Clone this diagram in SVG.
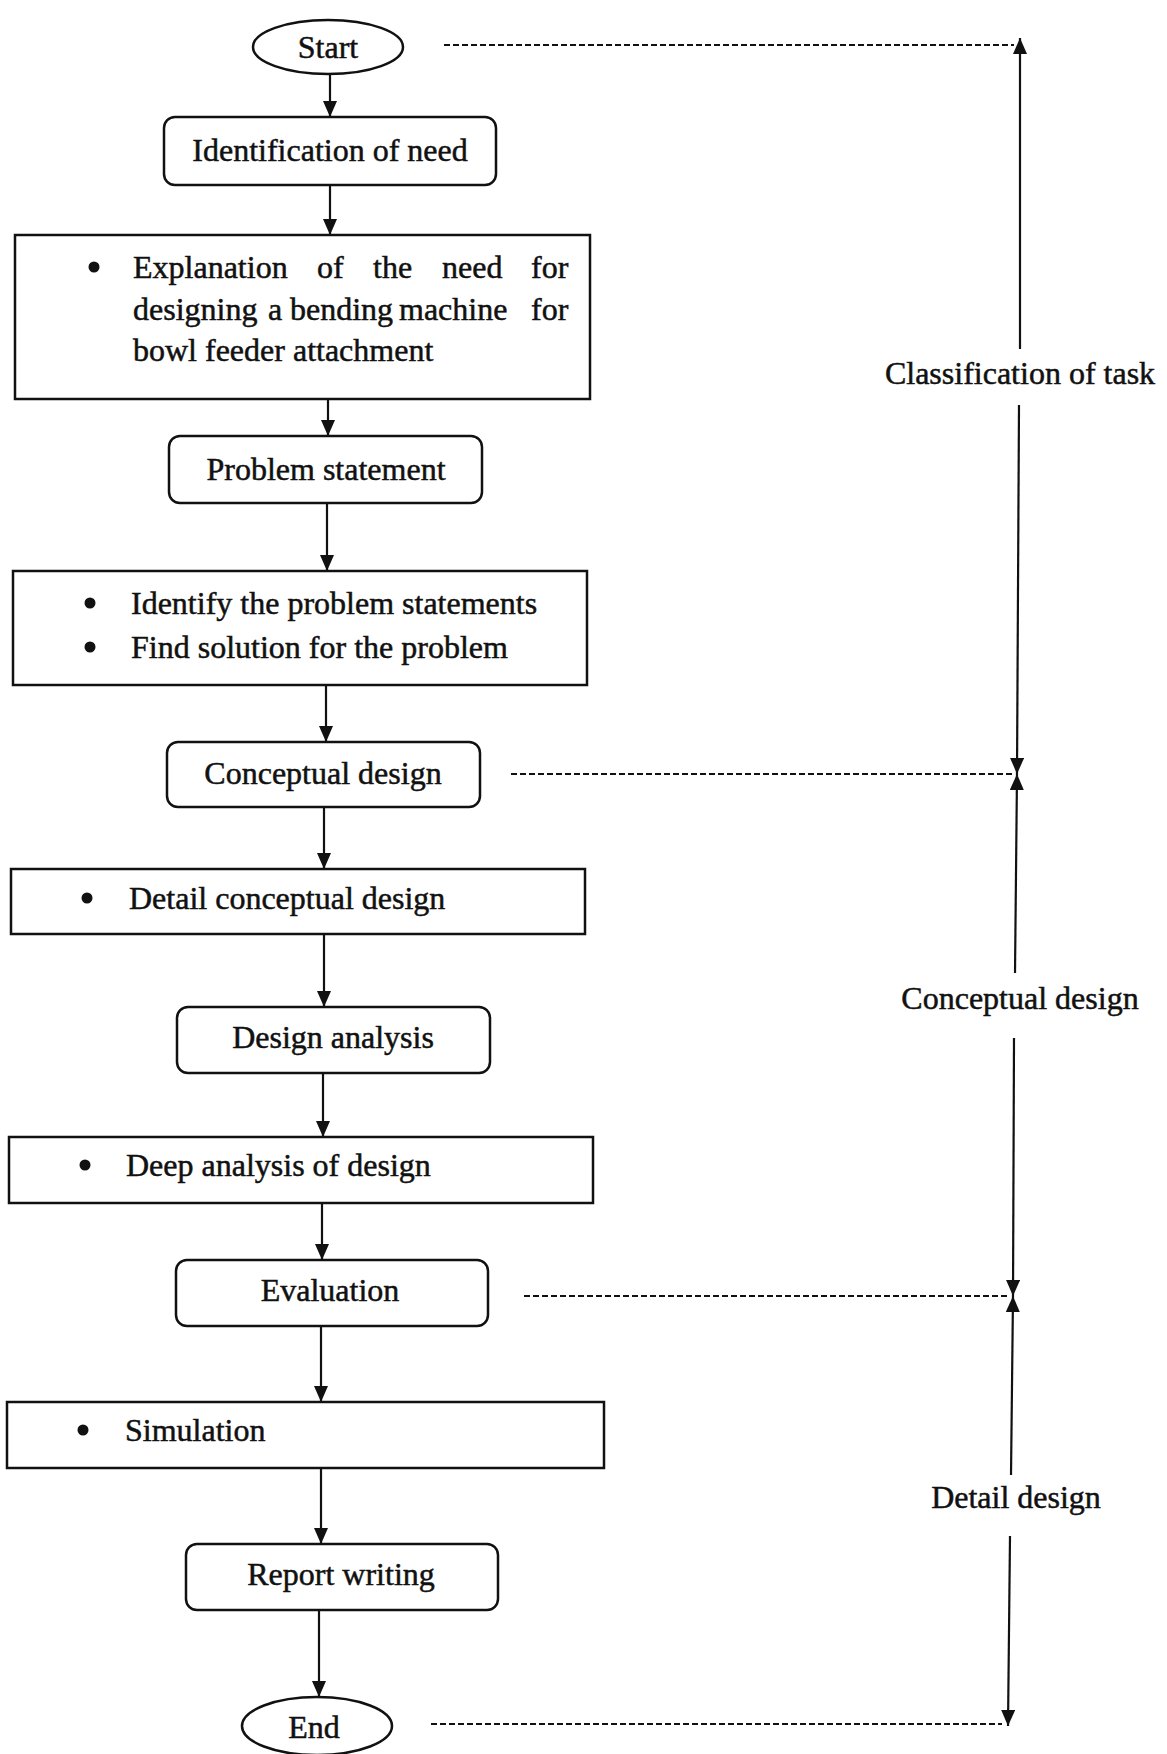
<svg xmlns="http://www.w3.org/2000/svg" width="1167" height="1754" viewBox="0 0 1167 1754">
<style>
.b{fill:#fff;stroke:#111;stroke-width:2.5}
.t{font-family:"Liberation Serif","Times New Roman",serif;font-size:32px;fill:#111;stroke:#111;stroke-width:0.5}
.c{text-anchor:middle}
.ln{stroke:#111;stroke-width:2.2;fill:none}
.d{stroke:#111;stroke-width:2.2;stroke-dasharray:6 3;fill:none}
.dot{fill:#111}
</style>
<defs>
<marker id="ah" viewBox="0 0 16 14" refX="16" refY="7" markerWidth="16" markerHeight="14" orient="auto" markerUnits="userSpaceOnUse"><path d="M0,0 L16,7 L0,14 z" fill="#111"/></marker>
</defs>
<rect width="1167" height="1754" fill="#fff"/>
<g id="connectors">
<line class="ln" x1="330" y1="74" x2="330" y2="117" marker-end="url(#ah)"/>
<line class="ln" x1="330" y1="185" x2="330" y2="235" marker-end="url(#ah)"/>
<line class="ln" x1="328" y1="399" x2="328" y2="436" marker-end="url(#ah)"/>
<line class="ln" x1="327" y1="503" x2="327" y2="571" marker-end="url(#ah)"/>
<line class="ln" x1="326" y1="685" x2="326" y2="742" marker-end="url(#ah)"/>
<line class="ln" x1="324" y1="807" x2="324" y2="869" marker-end="url(#ah)"/>
<line class="ln" x1="324" y1="934" x2="324" y2="1007" marker-end="url(#ah)"/>
<line class="ln" x1="323" y1="1073" x2="323" y2="1137" marker-end="url(#ah)"/>
<line class="ln" x1="322" y1="1203" x2="322" y2="1260" marker-end="url(#ah)"/>
<line class="ln" x1="321" y1="1326" x2="321" y2="1402" marker-end="url(#ah)"/>
<line class="ln" x1="321" y1="1468" x2="321" y2="1544" marker-end="url(#ah)"/>
<line class="ln" x1="319" y1="1610" x2="319" y2="1697" marker-end="url(#ah)"/>
<line class="d" x1="444" y1="45" x2="1014" y2="45"/>
<line class="d" x1="511" y1="774" x2="1012" y2="774"/>
<line class="d" x1="524" y1="1296" x2="1008" y2="1296"/>
<line class="d" x1="431" y1="1724" x2="1002" y2="1724"/>
<line class="ln" x1="1020" y1="349" x2="1020" y2="38" marker-end="url(#ah)"/>
<line class="ln" x1="1019" y1="405" x2="1017" y2="774" marker-end="url(#ah)"/>
<line class="ln" x1="1015" y1="973" x2="1017" y2="774" marker-end="url(#ah)"/>
<line class="ln" x1="1014" y1="1038" x2="1013" y2="1296" marker-end="url(#ah)"/>
<line class="ln" x1="1011" y1="1475" x2="1013" y2="1296" marker-end="url(#ah)"/>
<line class="ln" x1="1010" y1="1536" x2="1008" y2="1726" marker-end="url(#ah)"/>
</g>
<g id="label-classification"><text class="t c" x="1020" y="384">Classification of task</text></g>
<g id="label-conceptual"><text class="t c" x="1020" y="1009">Conceptual design</text></g>
<g id="label-detail"><text class="t c" x="1016" y="1508">Detail design</text></g>
<g id="start"><ellipse class="b" cx="328" cy="47" rx="75" ry="27"/><text class="t c" x="328" y="58">Start</text></g>
<g id="identification"><rect class="b" x="164" y="117" width="332" height="68" rx="11"/><text class="t c" x="330" y="161">Identification of need</text></g>
<g id="explanation"><rect class="b" x="15" y="235" width="575" height="164"/>
<circle class="dot" cx="94" cy="267" r="5.5"/>
<text class="t" y="278"><tspan x="133">Explanation</tspan><tspan x="317">of</tspan><tspan x="373">the</tspan><tspan x="442">need</tspan><tspan x="531">for</tspan></text>
<text class="t" y="320"><tspan x="133">designing</tspan><tspan x="268">a</tspan><tspan x="290">bending</tspan><tspan x="399">machine</tspan><tspan x="531">for</tspan></text>
<text class="t" x="133" y="361">bowl feeder attachment</text></g>
<g id="problem"><rect class="b" x="169" y="436" width="313" height="67" rx="11"/><text class="t c" x="326" y="480">Problem statement</text></g>
<g id="identify"><rect class="b" x="13" y="571" width="574" height="114"/>
<circle class="dot" cx="90" cy="603" r="5.5"/><text class="t" x="131" y="614">Identify the problem statements</text>
<circle class="dot" cx="90" cy="647" r="5.5"/><text class="t" x="131" y="658">Find solution for the problem</text></g>
<g id="conceptual"><rect class="b" x="167" y="742" width="313" height="65" rx="11"/><text class="t c" x="323" y="784">Conceptual design</text></g>
<g id="detail-conceptual"><rect class="b" x="11" y="869" width="574" height="65"/>
<circle class="dot" cx="87" cy="898" r="5.5"/><text class="t" x="129" y="909">Detail conceptual design</text></g>
<g id="design-analysis"><rect class="b" x="177" y="1007" width="313" height="66" rx="11"/><text class="t c" x="333" y="1048">Design analysis</text></g>
<g id="deep-analysis"><rect class="b" x="9" y="1137" width="584" height="66"/>
<circle class="dot" cx="85" cy="1165" r="5.5"/><text class="t" x="126" y="1176">Deep analysis of design</text></g>
<g id="evaluation"><rect class="b" x="176" y="1260" width="312" height="66" rx="11"/><text class="t c" x="330" y="1301">Evaluation</text></g>
<g id="simulation"><rect class="b" x="7" y="1402" width="597" height="66"/>
<circle class="dot" cx="83" cy="1430" r="5.5"/><text class="t" x="125" y="1441">Simulation</text></g>
<g id="report"><rect class="b" x="186" y="1544" width="312" height="66" rx="11"/><text class="t c" x="341" y="1585">Report writing</text></g>
<g id="end"><ellipse class="b" cx="317" cy="1726" rx="75" ry="29"/><text class="t c" x="314" y="1738">End</text></g>
</svg>
